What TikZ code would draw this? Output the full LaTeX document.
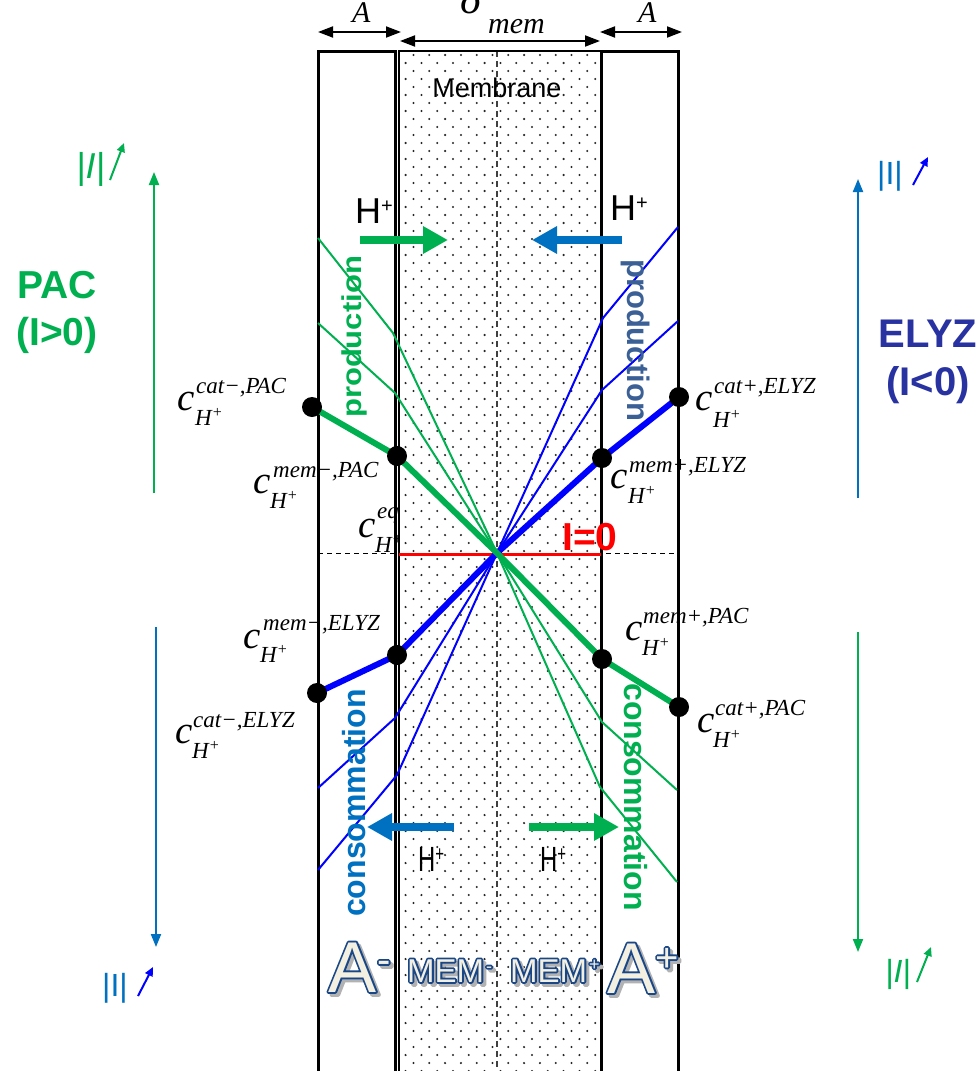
\documentclass[tikz,border=0pt]{standalone}
\usepackage{fontspec}
\setmainfont{Liberation Sans}
\newfontfamily\tms{Liberation Serif}
\usetikzlibrary{arrows.meta}
\definecolor{gr}{RGB}{0,176,80}
\definecolor{bl}{RGB}{0,0,255}
\definecolor{ob}{RGB}{0,112,192}
\definecolor{pb}{RGB}{59,96,150}
\definecolor{ely}{RGB}{40,50,160}
\definecolor{wafill}{RGB}{243,240,226}
\definecolor{waline}{RGB}{25,70,135}
\newcommand\fs[1]{\fontsize{#1}{#1}\selectfont}
\newcommand\strokeon{\special{pdf:literal direct 2 Tr 3.6 w 1 j 0.098 0.275 0.529 RG 0.098 0.275 0.529 rg}}
\newcommand\strokeoff{\special{pdf:literal direct 0 Tr}}
\tikzset{
  boxline/.style={line width=3pt},
  thinline/.style={line width=2pt},
  thickline/.style={line width=6pt, line join=round},
  dotpt/.style={circle, fill=black, inner sep=0pt, minimum size=20pt},
  hparrow/.style={line width=8pt, -{Triangle[length=25pt,width=26pt]}},
  sidearrow/.style={line width=2pt, -{Triangle[length=13pt,width=10pt]}},
  smallarrow/.style={line width=2pt, -{Triangle[length=9pt,width=8pt]}},
  dimarrow/.style={line width=1.8pt, {Triangle[length=15pt,width=11pt]}-{Triangle[length=15pt,width=11pt]}},
  cbig/.style={anchor=base west, inner sep=0pt, font=\tms\itshape\fs{39}},
  csmall/.style={anchor=base west, inner sep=0pt, font=\tms\itshape\fs{23}},
  wa/.style={anchor=base west, inner sep=0pt},
  txt/.style={anchor=base west, inner sep=0pt},
}
% c label: name, xc, yc, xsup, ysup, sup, xsub, ysub
\newcommand\clab[8]{%
  \node[cbig] (#1c) at (#2,#3) {c};
  \node[csmall] (#1p) at (#4,#5) {#6};
  \node[csmall] (#1b) at (#7,#8) {H\raisebox{8pt}{\fs{16}+}};
}
\newcommand\wordart[4]{%
  \node[wa, text=black!30] at ({#2+3},{#3+3}) {\strokeon\special{pdf:literal direct 0.7 0.7 0.7 RG 0.7 0.7 0.7 rg}#4\strokeoff};
  \node[wa, text=waline] at (#2,#3) {\strokeon#4\strokeoff};
  \node[wa, text=wafill] (#1) at (#2,#3) {#4};
}
\begin{document}
\begin{tikzpicture}[x=1pt,y=-1pt]
\useasboundingbox (0,0) rectangle (979,1071);
\clip (0,0) rectangle (979,1071);
\fill[white] (0,0) rectangle (979,1071);

% ---- key coordinates
\coordinate (O) at (497,553);
\coordinate (pcm) at (312,407);
\coordinate (pmm) at (397,456);
\coordinate (pmp) at (602,659);
\coordinate (pcp) at (679,707);
\coordinate (ecm) at (317,693);
\coordinate (emm) at (397,655);
\coordinate (emp) at (602,458);
\coordinate (ecp) at (679,397);
\coordinate (g1a) at (318,238); \coordinate (g1b) at (393,333);
\coordinate (g2a) at (318,323); \coordinate (g2b) at (395,393);
\coordinate (g3b) at (602,722); \coordinate (g3a) at (677,790);
\coordinate (g4b) at (600,787); \coordinate (g4a) at (677,882);
\coordinate (b1b) at (603,318); \coordinate (b1a) at (678,227);
\coordinate (b2b) at (602,390); \coordinate (b2a) at (678,321);
\coordinate (b3b) at (395,718); \coordinate (b3a) at (318,788);
\coordinate (b4b) at (397,775); \coordinate (b4a) at (318,870);

% c eq label (partly hidden by membrane)
\clab{eq}{358}{537}{377}{518}{eq}{375}{552}

% ---- membrane
\coordinate (mtl) at (399,51);
\coordinate (mbr) at (601,1080);
\fill[white] (mtl) rectangle (mbr);
\begin{scope}
\clip (mtl) rectangle (mbr);
\foreach \r in {0,...,128}{
  \pgfmathsetmacro\yr{55+8*\r}
  \pgfmathsetmacro\xo{405.6+7.9*(1-mod(\r,2))}
  \fill[black!85] \foreach \c in {0,...,12}{(\xo+\c*15.8,\yr) circle[radius=1.15pt]};
}
\end{scope}
\coordinate (cvt) at (497,51);
\coordinate (cvb) at (497,1075);
\draw[black!75, line width=1.3pt, dash pattern=on 6pt off 4pt] (cvt) -- (cvb);
\draw[line width=1.2pt] (399,1080) -- (mtl) -- (601,51);

% ---- boxes
\coordinate (lbl) at (318,1080); \coordinate (lt1) at (318,51);
\coordinate (lt2) at (395,51); \coordinate (lbr) at (395,1080);
\coordinate (rbl) at (601,1080); \coordinate (rt1) at (601,51);
\coordinate (rt2) at (678,51); \coordinate (rbr) at (678,1080);
\draw[boxline] (lbl) -- (lt1) -- (lt2) -- (lbr);
\draw[boxline] (rbl) -- (rt1) -- (rt2) -- (rbr);

% ---- top dimensions
\coordinate (d1a) at (318,32); \coordinate (d1b) at (401,32);
\coordinate (d2a) at (400,41); \coordinate (d2b) at (600,41);
\coordinate (d3a) at (600,32); \coordinate (d3b) at (682,32);
\draw[dimarrow] (d1a) -- (d1b);
\draw[dimarrow] (d2a) -- (d2b);
\draw[dimarrow] (d3a) -- (d3b);
\node[txt, font=\tms\itshape\fs{30}] (dA1) at (352,22) {A};
\node[txt, font=\tms\itshape\fs{44}] (dmem) at (460,13) {δ};
\node[txt, font=\tms\itshape\fs{30}] (dmems) at (488,33) {mem};
\node[txt, font=\tms\itshape\fs{30}] (dA2) at (638,22) {A};
\node[anchor=base, inner sep=0pt, font=\fs{27}] (memtxt) at (497,97) {Membrane};

% ---- I=0 lines
\coordinate (hl) at (318,553); \coordinate (hr) at (677,553);
\draw[line width=1pt, dash pattern=on 5pt off 4pt] (hl) -- (hr);
\coordinate (rl) at (399,554); \coordinate (rr) at (601,554);
\draw[red, line width=3pt] (rl) -- (rr);
\node[txt, text=red, font=\bfseries\fs{39}] (izero) at (562,550) {I=0};

% ---- thin lines
\draw[thinline, gr] (g1a) -- (g1b) -- (O);
\draw[thinline, gr] (g2a) -- (g2b) -- (O);
\draw[thinline, gr] (O) -- (g3b) -- (g3a);
\draw[thinline, gr] (O) -- (g4b) -- (g4a);
\draw[thinline, bl] (O) -- (b1b) -- (b1a);
\draw[thinline, bl] (O) -- (b2b) -- (b2a);
\draw[thinline, bl] (O) -- (b3b) -- (b3a);
\draw[thinline, bl] (O) -- (b4b) -- (b4a);

% ---- thick lines
\draw[thickline, bl] (ecm) -- (emm) -- (O) -- (emp) -- (ecp);
\draw[thickline, gr] (pcm) -- (pmm) -- (O) -- (pmp) -- (pcp);
\foreach \p in {pcm,pmm,pmp,pcp,ecm,emm,emp,ecp}{\node[dotpt] (d\p) at (\p) {};}

% ---- H+ arrows
\coordinate (h1a) at (360,240); \coordinate (h1b) at (448,240);
\coordinate (h2a) at (622,240); \coordinate (h2b) at (532,240);
\coordinate (h3a) at (454,827); \coordinate (h3b) at (367,827);
\coordinate (h4a) at (529,827); \coordinate (h4b) at (619,827);
\draw[hparrow, gr] (h1a) -- (h1b);
\draw[hparrow, ob] (h2a) -- (h2b);
\draw[hparrow, ob] (h3a) -- (h3b);
\draw[hparrow, gr] (h4a) -- (h4b);
\node[txt, font=\fs{36}] (hTL) at (355,223) {H\raisebox{11pt}{\fs{20}+}};
\node[txt, font=\fs{36}] (hTR) at (610,220) {H\raisebox{11pt}{\fs{20}+}};
\node[txt, font=\fs{35}] (hBL) at (418,871) {\scalebox{0.68}[1]{H\raisebox{10pt}{\fs{22}+}}};
\node[txt, font=\fs{35}] (hBR) at (540,871) {\scalebox{0.68}[1]{H\raisebox{10pt}{\fs{22}+}}};

% ---- rotated words
\node[rotate=90, text=gr, font=\bfseries\fs{31}, inner sep=0pt] (prodL) at (354,337) {\scalebox{1}[0.88]{production}};
\node[rotate=-90, text=pb, font=\bfseries\fs{31}, inner sep=0pt] (prodR) at (636,340) {production};
\node[rotate=90, text=ob, font=\bfseries\fs{32}, inner sep=0pt] (consL) at (354,803) {consommation};
\node[rotate=-90, text=gr, font=\bfseries\fs{32}, inner sep=0pt] (consR) at (636,797) {consommation};

% ---- concentration labels
\clab{cmP}{177}{410}{196}{393}{cat−,PAC}{195}{425}
\clab{mmP}{253}{493}{273}{477}{mem−,PAC}{270}{508}
\clab{cpE}{695}{410}{714}{393}{cat+,ELYZ}{713}{427}
\clab{mpE}{610}{488}{629}{472}{mem+,ELYZ}{628}{503}
\clab{mmE}{243}{648}{263}{630}{mem−,ELYZ}{260}{662}
\clab{cmE}{175}{743}{193}{727}{cat−,ELYZ}{192}{758}
\clab{mpP}{625}{640}{643}{623}{mem+,PAC}{642}{655}
\clab{cpP}{697}{732}{715}{715}{cat+,PAC}{713}{747}

% ---- side arrows and labels
\coordinate (pacb) at (154,493); \coordinate (pact) at (154,172);
\coordinate (elyb) at (858,498); \coordinate (elyt) at (858,179);
\coordinate (lbt) at (156,627); \coordinate (lbb) at (156,947);
\coordinate (rbt) at (858,632); \coordinate (rbb) at (858,952);
\draw[sidearrow, gr] (pacb) -- (pact);
\draw[sidearrow, ob] (elyb) -- (elyt);
\draw[sidearrow, ob] (lbt) -- (lbb);
\draw[sidearrow, gr] (rbt) -- (rbb);

\node[anchor=base, inner sep=0pt, text=gr, font=\bfseries\fs{39}] (pac) at (57,298) {PAC};
\node[anchor=base, inner sep=0pt, text=gr, font=\bfseries\fs{39}] (pacI) at (57,345) {(I>0)};
\node[anchor=base, inner sep=0pt, text=ely, font=\bfseries\fs{40}] (elyz) at (928,347) {ELYZ};
\node[anchor=base, inner sep=0pt, text=ely, font=\bfseries\fs{40}] (elyzI) at (928,395) {(I<0)};

\node[txt, text=gr, font=\itshape\fs{36}] (iTL) at (76,178) {|I|};
\node[txt, text=ob, font=\fs{32}] (iTR) at (877,184) {|I|};
\node[txt, text=ob, font=\fs{32}] (iBL) at (102,996) {|I|};
\node[txt, text=gr, font=\itshape\fs{32}] (iBR) at (885,982) {|I|};
\coordinate (a1a) at (110,180); \coordinate (a1b) at (124,143);
\coordinate (a2a) at (913,185); \coordinate (a2b) at (928,157);
\coordinate (a3a) at (138,996); \coordinate (a3b) at (153,967);
\coordinate (a4a) at (917,982); \coordinate (a4b) at (931,947);
\draw[smallarrow, gr] (a1a) -- (a1b);
\draw[smallarrow, bl] (a2a) -- (a2b);
\draw[smallarrow, bl] (a3a) -- (a3b);
\draw[smallarrow, gr] (a4a) -- (a4b);

% ---- word art labels
\wordart{wAm}{328}{992}{\fs{72}A}
\wordart{wAmsup}{377}{973}{\fs{40}-}
\wordart{wMm}{407}{982}{\fs{33}MEM}
\wordart{wMmsup}{486}{972}{\fs{18}-}
\wordart{wMp}{510}{982}{\fs{33}MEM}
\wordart{wMpsup}{589}{970}{\fs{18}+}
\wordart{wAp}{607}{993}{\fs{72}A}
\wordart{wApsup}{655}{971}{\fs{40}+}
\end{tikzpicture}
\end{document}
